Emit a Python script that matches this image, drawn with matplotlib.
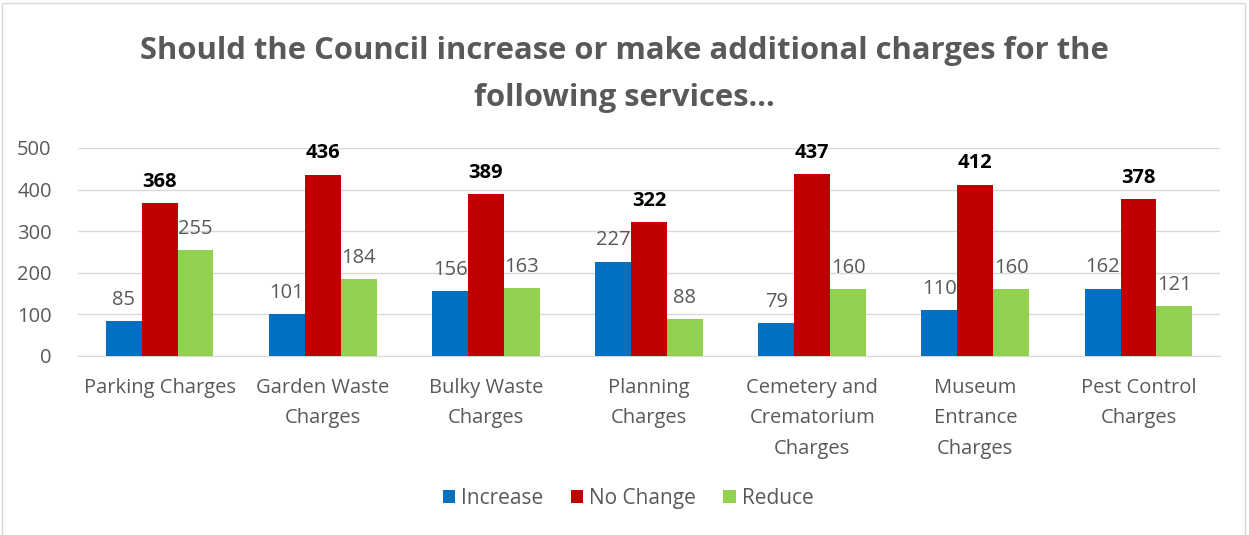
import matplotlib

matplotlib.use("Agg")

import matplotlib.pyplot as plt
import numpy as np
from matplotlib.patches import Rectangle

plt.rcParams["font.family"] = ["Open Sans", "DejaVu Sans"]

categories = [
    "Parking Charges",
    "Garden Waste\nCharges",
    "Bulky Waste\nCharges",
    "Planning\nCharges",
    "Cemetery and\nCrematorium\nCharges",
    "Museum\nEntrance\nCharges",
    "Pest Control\nCharges",
]
increase = [85, 101, 156, 227, 79, 110, 162]
no_change = [368, 436, 389, 322, 437, 412, 378]
reduce = [255, 184, 163, 88, 160, 160, 121]

series = [
    ("Increase", increase, "#0070C0", False),
    ("No Change", no_change, "#C00000", True),
    ("Reduce", reduce, "#92D050", False),
]

GRAY = "#595959"

fig = plt.figure(figsize=(12.49, 5.35), dpi=100)
ax = fig.add_axes([0.0625, 0.3346, 0.9143, 0.3888])

# chart frame
fig.patches.append(
    Rectangle((2 / 1249, -0.05), 1243 / 1249, 1.0 - 3 / 535 + 0.05,
              transform=fig.transFigure, fill=False, ec="#d9d9d9", lw=1.0)
)

x = np.arange(len(categories))
width = 0.22

for i, (name, vals, color, bold) in enumerate(series):
    pos = x + (i - 1) * width
    bars = ax.bar(pos, vals, width, color=color, label=name, zorder=3)
    for b, v in zip(bars, vals):
        ax.annotate(
            f"{v}",
            (b.get_x() + b.get_width() / 2, v),
            xytext=(0, 8),
            textcoords="offset points",
            ha="center",
            va="bottom",
            fontsize=14.5,
            fontweight="bold" if bold else "normal",
            color="black" if bold else GRAY,
        )

ax.set_xlim(-0.5, len(categories) - 0.5)
ax.set_ylim(0, 500)
ax.set_yticks(range(0, 501, 100))
ax.yaxis.grid(True, color="#d9d9d9", lw=1.0, zorder=0)
ax.set_axisbelow(True)

for side in ["left", "right", "top"]:
    ax.spines[side].set_visible(False)
ax.spines["bottom"].set_color("#d9d9d9")

ax.set_xticks(x)
ax.set_xticklabels(categories, linespacing=1.68)
ax.tick_params(axis="x", length=0, pad=16, labelsize=14.5, labelcolor=GRAY)
ax.tick_params(axis="y", length=0, pad=19, labelsize=14.5, labelcolor=GRAY)
for lbl in ax.get_xticklabels():
    lbl.set_verticalalignment("top")

fig.text(
    0.5,
    0.861,
    "Should the Council increase or make additional charges for the\nfollowing services...",
    ha="center",
    va="center",
    fontsize=22.3,
    fontweight="bold",
    color=GRAY,
    linespacing=1.72,
)

fig.legend(
    loc="center",
    bbox_to_anchor=(0.503, 0.069),
    ncol=3,
    frameon=False,
    fontsize=15,
    labelcolor=GRAY,
    handlelength=0.6,
    handleheight=0.6,
    handletextpad=0.3,
    columnspacing=1.3,
)

fig.savefig("out.png", dpi=100)
